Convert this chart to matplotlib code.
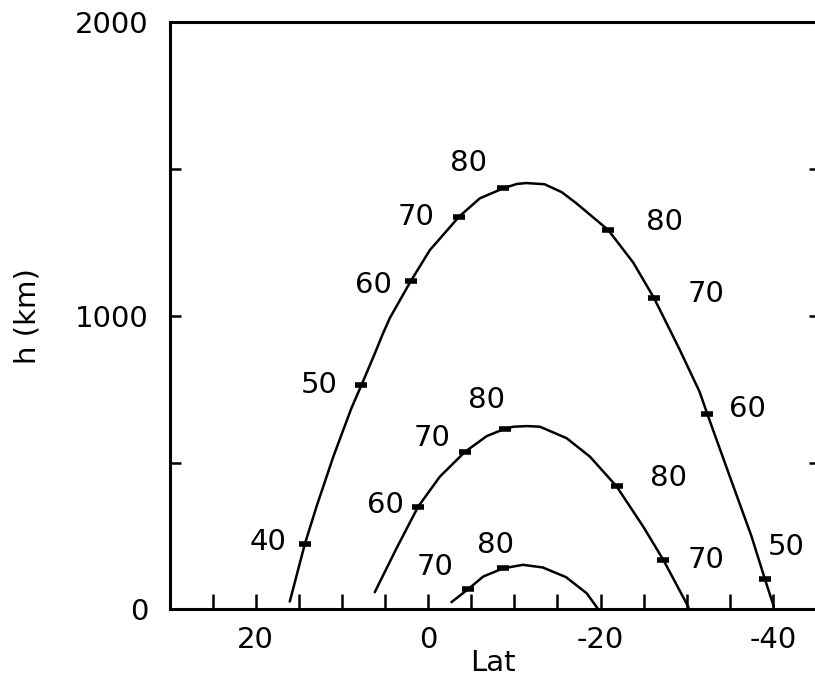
import matplotlib
matplotlib.use("Agg")
import matplotlib.pyplot as plt

plt.rcParams["axes.unicode_minus"] = False

# ---- data ----
outer_lat = [16.05, 14.3, 12.95, 11.0, 8.9, 7.73, 6.2, 5.3, 4.44, 2.0, -0.2, -3.6, -6.0, -8.7,
             -10.3, -11.4, -13.5, -15.5, -17.2, -20.9, -23.8, -26.2, -29.2, -31.5, -32.4,
             -35.0, -37.5, -39.07, -40.1]
outer_h = [27, 223, 350, 520, 685, 764, 870, 935, 992, 1118, 1223, 1337, 1399, 1433,
           1448, 1451, 1447, 1420, 1382, 1291, 1180, 1060, 883, 740, 664,
           452, 250, 103, 10]

middle_lat = [6.19, 3.67, 1.16, -1.36, -4.26, -6.8, -8.9, -9.9, -11.5, -12.96, -16.06,
              -18.77, -21.86, -24.95, -27.3, -30.2]
middle_h = [59, 208, 350, 452, 536, 590, 615, 622, 624, 622, 583,
            520, 419, 282, 168, 8]

inner_lat = [-2.7, -4.64, -6.38, -8.7, -11.0, -13.3, -16.0, -18.4, -19.7]
inner_h = [25, 69, 112, 140, 152, 143, 110, 55, 2]

# marks on the curves and their values
outer_mark_lat = [14.3, 7.73, 2.0, -3.6, -8.7, -20.9, -26.2, -32.4, -39.07]
outer_mark_h = [223, 764, 1118, 1337, 1433, 1291, 1060, 664, 103]
outer_mark_val = ["40", "50", "60", "70", "80", "80", "70", "60", "50"]

middle_mark_lat = [1.16, -4.26, -8.9, -21.86, -27.3]
middle_mark_h = [350, 536, 615, 419, 168]
middle_mark_val = ["60", "70", "80", "80", "70"]

inner_mark_lat = [-4.64, -8.7]
inner_mark_h = [69, 140]
inner_mark_val = ["70", "80"]

# label placement (layout, data coordinates)
outer_lab_pos = [(18.57, 231), (12.65, 764), (6.38, 1104), (1.35, 1337), (-4.64, 1518),
                 (-27.47, 1320), (-32.2, 1074), (-37.0, 681), (-41.5, 214)]
middle_lab_pos = [(5.0, 356), (-0.4, 583), (-6.8, 713), (-27.85, 446), (-32.2, 168)]
inner_lab_pos = [(-0.78, 146), (-7.86, 220)]

x_ticks = [20, 0, -20, -40]
y_ticks = [0, 1000, 2000]

# ---- figure ----
fig = plt.figure(figsize=(8.15, 6.89), dpi=100)
ax = fig.add_axes([0.208, 0.1154, 0.7933, 0.8531])

for lat, h in [(outer_lat, outer_h), (middle_lat, middle_h), (inner_lat, inner_h)]:
    ax.plot(lat, h, color="black", lw=1.8, solid_joinstyle="round", solid_capstyle="round")

for mlat, mh, vals, pos in [
    (outer_mark_lat, outer_mark_h, outer_mark_val, outer_lab_pos),
    (middle_mark_lat, middle_mark_h, middle_mark_val, middle_lab_pos),
    (inner_mark_lat, inner_mark_h, inner_mark_val, inner_lab_pos),
]:
    ax.plot(mlat, mh, linestyle="none", marker="_", markersize=9, mew=4, color="black")
    for v, (px, py) in zip(vals, pos):
        ax.text(px, py, v, ha="center", va="center", fontsize=21, color="black")

ax.set_xlim(30, -45)
ax.set_ylim(0, 2000)

ax.set_xticks(x_ticks)
ax.set_xticks(range(25, -45, -5), minor=True)
ax.set_yticks(y_ticks)
ax.set_yticks([500, 1500], minor=True)

ax.tick_params(axis="x", which="both", direction="in", length=11, width=1.8,
               labelsize=21, pad=12, top=False)
ax.tick_params(axis="y", which="both", direction="in", length=8, width=1.8,
               labelsize=21, pad=15, right=False)

# short inward ticks at the right edge
ax_r = ax.twinx()
ax_r.set_ylim(0, 2000)
ax_r.set_yticks([500, 1000, 1500])
ax_r.tick_params(axis="y", direction="in", length=5, width=1.8, labelright=False)
for s in ax_r.spines.values():
    s.set_visible(False)

ax.set_xlabel("Lat", fontsize=21, labelpad=-4)
ax.set_ylabel("h (km)", fontsize=21, labelpad=24)

for s in ["left", "bottom", "top"]:
    ax.spines[s].set_linewidth(2.2)
ax.spines["right"].set_visible(False)

fig.savefig("out.png", dpi=100)
